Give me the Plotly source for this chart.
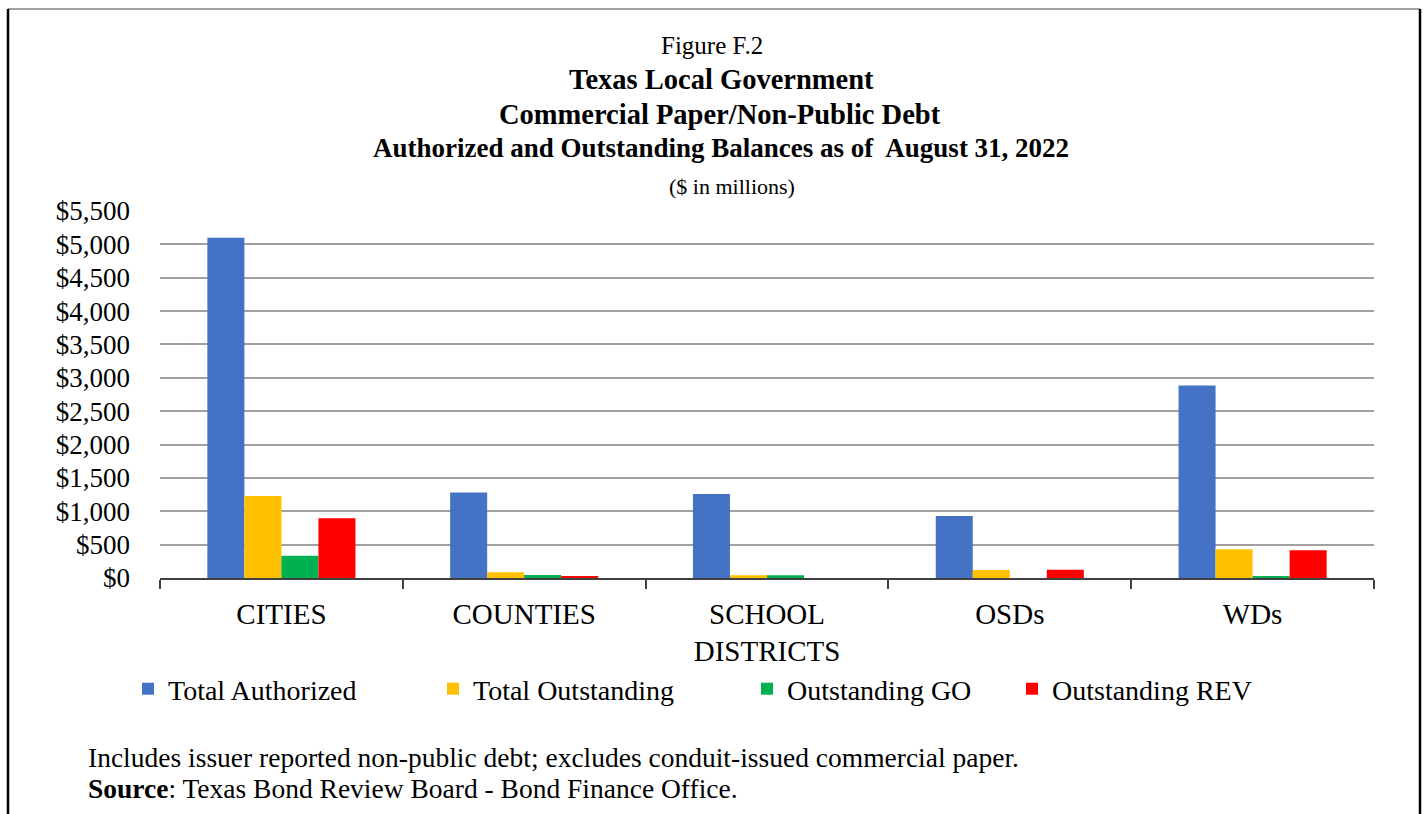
import plotly.graph_objects as go

categories = ["CITIES", "COUNTIES", "SCHOOL<br>DISTRICTS", "OSDs", "WDs"]
total_authorized = [5100, 1280, 1260, 930, 2885]
total_outstanding = [1230, 85, 40, 120, 430]
outstanding_go = [335, 45, 40, 0, 25]
outstanding_rev = [895, 25, 0, 125, 415]
ytick_vals = [0, 500, 1000, 1500, 2000, 2500, 3000, 3500, 4000, 4500, 5000, 5500]
ytick_text = ["$0", "$500", "$1,000", "$1,500", "$2,000", "$2,500", "$3,000",
              "$3,500", "$4,000", "$4,500", "$5,000", "$5,500"]

series = [
    ("Total Authorized", total_authorized, "#4472C4", "legend"),
    ("Total Outstanding", total_outstanding, "#FFC000", "legend2"),
    ("Outstanding GO", outstanding_go, "#00B050", "legend3"),
    ("Outstanding REV", outstanding_rev, "#FF0000", "legend4"),
]

FONT = "Liberation Serif"
W, H = 1424, 814
L, R, T, B = 160, 50, 211, 236
PW, PH = W - L - R, H - T - B


def px(x):
    return (x - L) / PW


def py(y):
    return (H - B - y) / PH


fig = go.Figure()
for name, vals, color, leg in series:
    fig.add_trace(go.Bar(x=categories, y=vals, name=name, marker_color=color,
                         marker_line_width=0, legend=leg))

legend_common = dict(orientation="h", font=dict(family=FONT, size=28, color="#000"),
                     bgcolor="rgba(0,0,0,0)", yanchor="middle", xanchor="left",
                     y=py(689))
legend_x = [128, 433, 747, 1012]

layout_legends = {}
for i, key in enumerate(["legend", "legend2", "legend3", "legend4"]):
    layout_legends[key] = dict(legend_common, x=px(legend_x[i]))

fig.update_layout(
    width=W, height=H,
    margin=dict(l=L, r=R, t=T, b=B),
    paper_bgcolor="white", plot_bgcolor="white",
    barmode="group", bargap=0.39, bargroupgap=0,
    font=dict(family=FONT, color="#000"),
    showlegend=True,
    **layout_legends,
)

fig.update_yaxes(range=[0, 5500], tickvals=ytick_vals, ticktext=ytick_text,
                 showgrid=True, gridcolor="#A0A0A0", gridwidth=1.5,
                 showline=False, ticks="", zeroline=False,
                 tickfont=dict(family=FONT, size=27, color="#000"),
                 ticklabelstandoff=29)
fig.update_xaxes(showgrid=False, showline=True, linecolor="#404040", linewidth=1.5,
                 ticks="outside", tickson="boundaries", ticklen=9, tickcolor="#404040",
                 tickwidth=1.5, tickfont=dict(family=FONT, size=29, color="#000"),
                 ticklabelstandoff=9)

titles = [
    ("Figure F.2", 45, False, 25, 712),
    ("Texas Local Government", 79, True, 28.5, 721),
    ("Commercial Paper/Non-Public Debt", 114, True, 28.5, 720),
    ("Authorized and Outstanding Balances as of  August 31, 2022", 148, True, 27, 721),
    ("($ in millions)", 187, False, 22, 732),
]
for text, y, bold, size, xc in titles:
    fig.add_annotation(text=f"<b>{text}</b>" if bold else text, xref="paper", yref="paper",
                       x=px(xc), y=py(y), xanchor="center", yanchor="middle",
                       showarrow=False, font=dict(family=FONT, size=size, color="#000"))

fig.add_annotation(text="Includes issuer reported non-public debt; excludes conduit-issued commercial paper.",
                   xref="paper", yref="paper", x=px(86), y=py(757), xanchor="left", yanchor="middle",
                   showarrow=False, font=dict(family=FONT, size=27.5, color="#000"))
fig.add_annotation(text="<b>Source</b>: Texas Bond Review Board - Bond Finance Office.",
                   xref="paper", yref="paper", x=px(86), y=py(788), xanchor="left", yanchor="middle",
                   showarrow=False, font=dict(family=FONT, size=27.5, color="#000"))

# frame around the figure
fig.add_shape(type="line", xref="paper", yref="paper", x0=px(8), x1=px(1420), y0=py(9), y1=py(9),
              line=dict(color="#A0A0A0", width=2))
fig.add_shape(type="line", xref="paper", yref="paper", x0=px(8), x1=px(8), y0=py(9), y1=py(830),
              line=dict(color="#000", width=2.5))
fig.add_shape(type="line", xref="paper", yref="paper", x0=px(1420), x1=px(1420), y0=py(9), y1=py(830),
              line=dict(color="#000", width=2.5))

fig.write_html("out.html")
